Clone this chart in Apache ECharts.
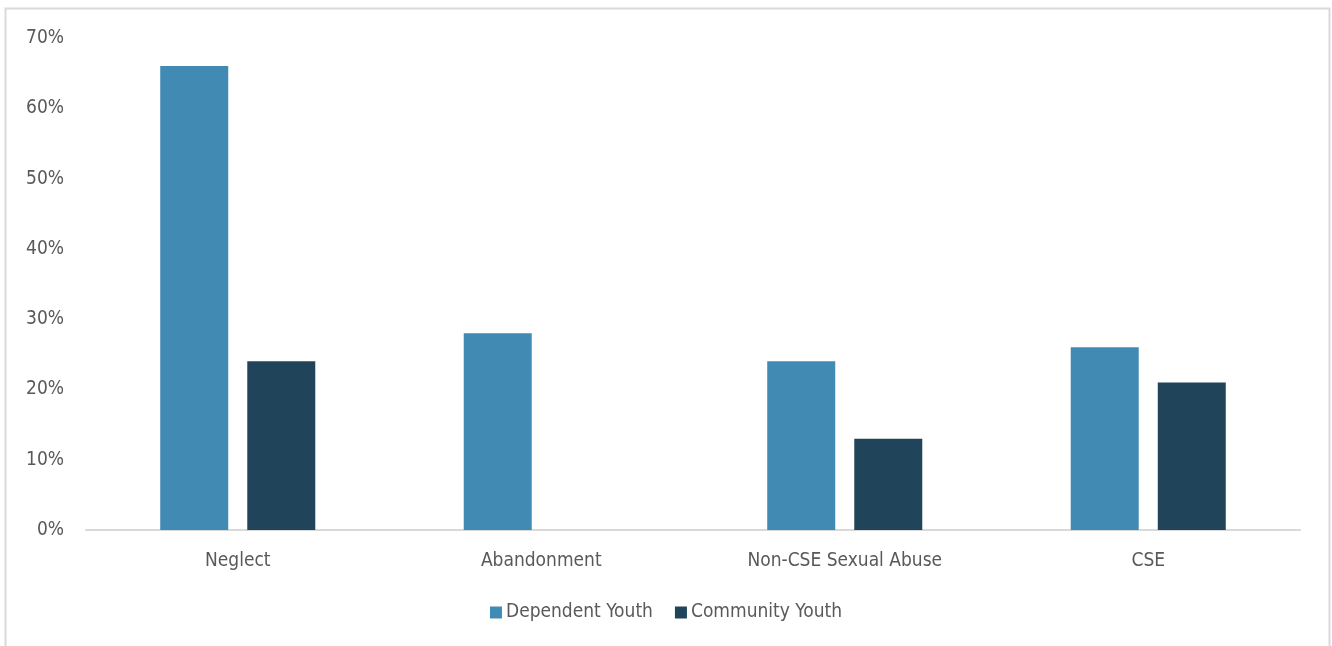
<!DOCTYPE html>
<html>
<head>
<meta charset="utf-8">
<script src="https://cdn.jsdelivr.net/npm/echarts@6/dist/echarts.min.js"></script>
<style>
html,body{margin:0;padding:0;background:#fff;}
#chart{width:1332px;height:646px;}
</style>
</head>
<body>
<div id="chart"></div>
<script>
const categories = ['Neglect', 'Abandonment', 'Non-CSE Sexual Abuse', 'CSE'];
const dependentYouth = [66, 28, 24, 26];
const communityYouth = [24, null, 13, 21];
const yTicks = [0, 10, 20, 30, 40, 50, 60, 70];

const FONT = '"Liberation Sans Narrow", "DejaVu Sans Condensed", "Roboto", sans-serif';
const chart = echarts.init(document.getElementById('chart'));
chart.setOption({
  backgroundColor: '#fff',
  animation: false,
  graphic: [{
    type: 'rect',
    shape: { x: 5.5, y: 8.5, width: 1324, height: 700 },
    style: { fill: 'none', stroke: '#d9d9d9', lineWidth: 2 },
    silent: true
  }],
  grid: { left: 86, right: 32, top: 38, bottom: 116, containLabel: false },
  legend: {
    bottom: 19,
    left: 'center',
    itemWidth: 12, itemHeight: 12, itemGap: 22,
    icon: 'rect',
    textStyle: { color: '#595959', fontSize: 19, fontWeight: 500, fontFamily: FONT, padding: [0, 0, 0, -1] },
    data: ['Dependent Youth', 'Community Youth']
  },
  xAxis: {
    type: 'category',
    data: categories,
    axisLine: { lineStyle: { color: '#d9d9d9', width: 2 } },
    axisTick: { show: false },
    axisLabel: { color: '#595959', fontSize: 19, fontWeight: 500, fontFamily: FONT, margin: 22 }
  },
  yAxis: {
    type: 'value',
    min: 0, max: 70, interval: 10,
    splitLine: { show: false },
    axisLine: { show: false },
    axisTick: { show: false },
    axisLabel: {
      color: '#595959', fontSize: 19, fontWeight: 500, fontFamily: FONT, margin: 22,
      formatter: v => yTicks.includes(v) ? v + '%' : ''
    }
  },
  series: [
    {
      name: 'Dependent Youth', type: 'bar', data: dependentYouth,
      barWidth: 68, barGap: '28%',
      itemStyle: { color: '#418AB3' }
    },
    {
      name: 'Community Youth', type: 'bar', data: communityYouth,
      barWidth: 68,
      itemStyle: { color: '#20445A' }
    }
  ]
});
</script>
</body>
</html>
